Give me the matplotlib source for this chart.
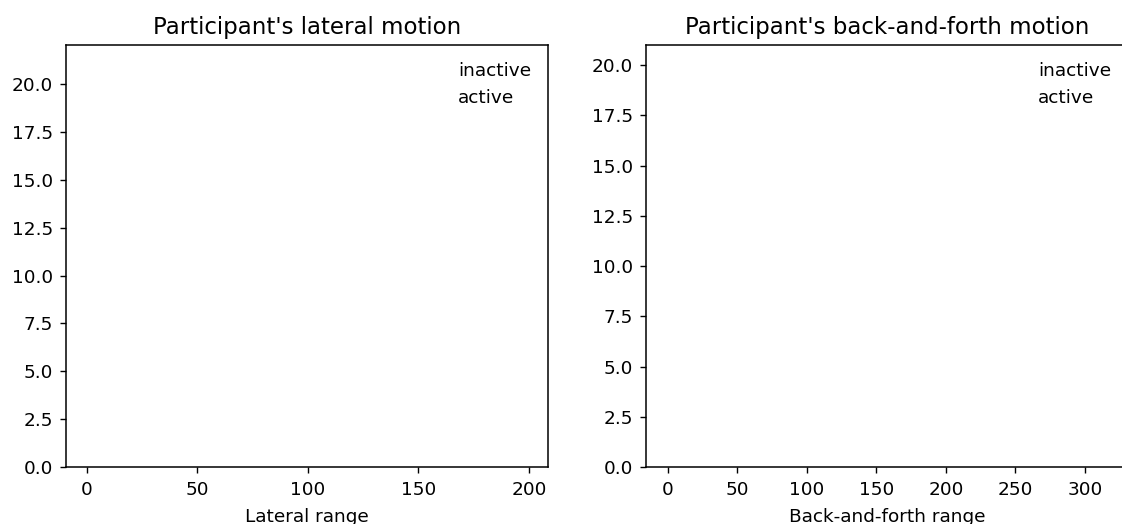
import matplotlib
matplotlib.use("Agg")
import matplotlib.pyplot as plt
import numpy as np

# Histogram data (bars are drawn invisibly in the reference; only legend labels show)
lateral_edges = [0, 22, 44, 66, 88, 110, 132, 154, 176, 198]
lateral_inactive = [21, 14, 9, 6, 4, 3, 2, 1, 1]
lateral_active = [8, 12, 10, 7, 5, 4, 2, 1, 1]

backforth_edges = [0, 35, 70, 105, 140, 175, 210, 245, 280, 315]
backforth_inactive = [20, 13, 8, 6, 4, 3, 2, 1, 1]
backforth_active = [7, 11, 9, 8, 5, 3, 2, 1, 1]

series_labels = ["inactive", "active"]
titles = ["Participant's lateral motion", "Participant's back-and-forth motion"]
xlabels = ["Lateral range", "Back-and-forth range"]
xticks_list = [[0, 50, 100, 150, 200], [0, 50, 100, 150, 200, 250, 300]]

W, H = 1122, 524
fig = plt.figure(figsize=(W / 100, H / 100), dpi=100)

ax1 = fig.add_axes([66 / W, 1 - 467 / H, (548 - 66) / W, (467 - 45) / H])
ax2 = fig.add_axes([646 / W, 1 - 467 / H, (548 - 66) / W, (467 - 45) / H])

panels = [
    (ax1, lateral_edges, [lateral_inactive, lateral_active], (-9.5, 208.6), 22.05),
    (ax2, backforth_edges, [backforth_inactive, backforth_active], (-15.8, 331), 21.0),
]

fs = 13.3
for i, (ax, edges, counts_list, xl, ytop) in enumerate(panels):
    edges = np.array(edges, dtype=float)
    centers = (edges[:-1] + edges[1:]) / 2
    for counts, lab in zip(counts_list, series_labels):
        ax.hist(centers, bins=edges, weights=counts, histtype="step",
                linewidth=0, label=lab)
    ax.set_xlim(*xl)
    ax.set_ylim(0, ytop)
    ax.set_xticks(xticks_list[i])
    ax.set_yticks(np.arange(0, 20.1, 2.5))
    ax.set_title(titles[i], fontsize=16.5, pad=8)
    ax.set_xlabel(xlabels[i], fontsize=fs, labelpad=6)
    ax.tick_params(axis="x", labelsize=fs, length=4.6, width=1.0, pad=5.8)
    ax.tick_params(axis="y", labelsize=fs, length=4.6, width=1.0, pad=4.6)
    for s in ax.spines.values():
        s.set_linewidth(1.1)
    ax.legend(frameon=False, fontsize=fs, loc="upper right")

fig.savefig("out.png", dpi=100)
